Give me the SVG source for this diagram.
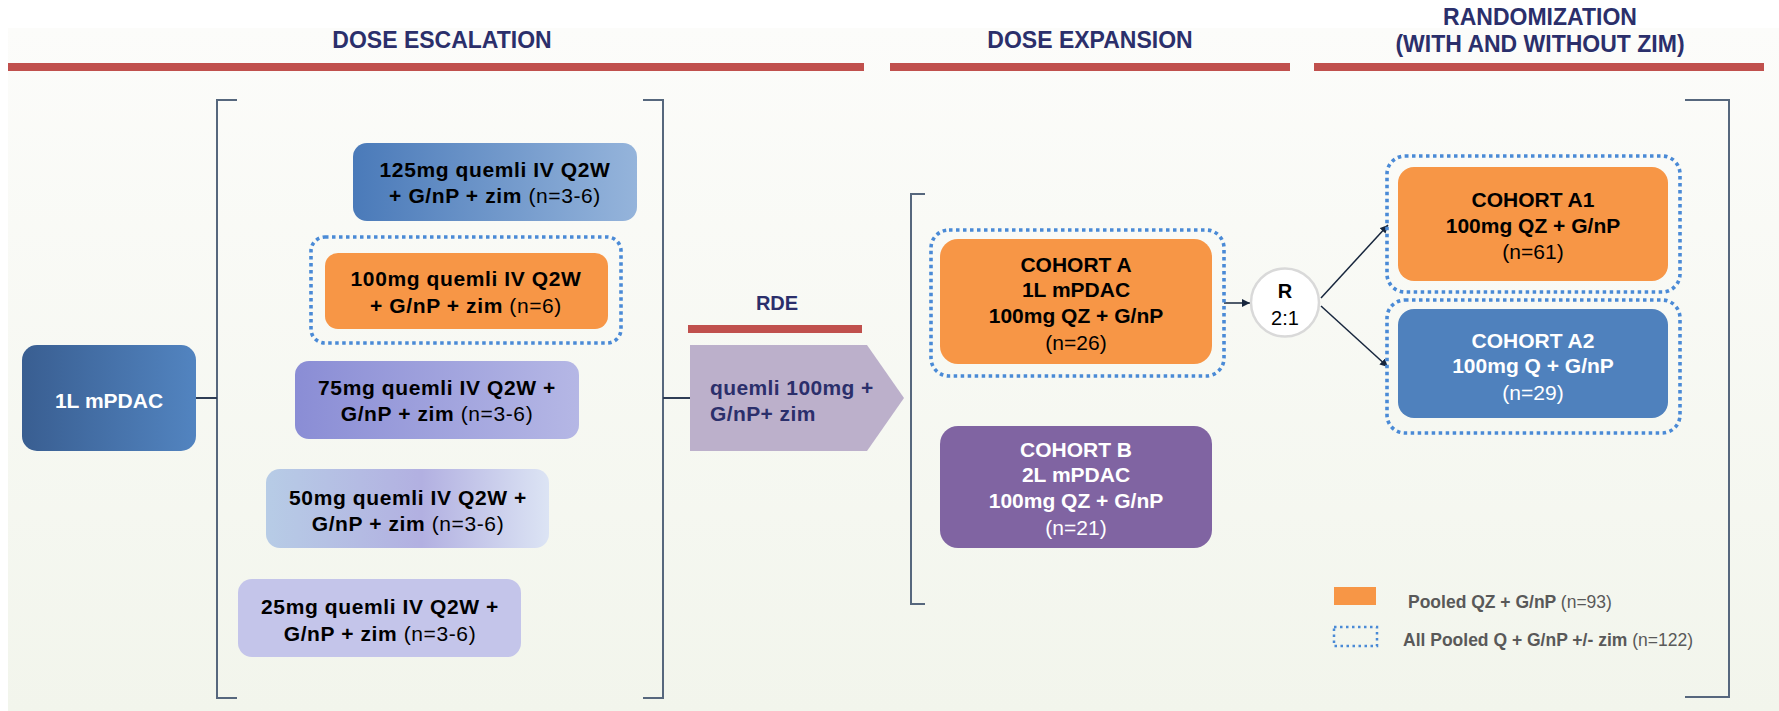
<svg xmlns="http://www.w3.org/2000/svg" width="1779" height="711" viewBox="0 0 1779 711">
  <defs>
    <linearGradient id="bg" x1="0" y1="0" x2="0" y2="1">
      <stop offset="0" stop-color="#fcfcfa"/>
      <stop offset="1" stop-color="#f2f5ec"/>
    </linearGradient>
    <linearGradient id="g1L" x1="0" y1="0" x2="1" y2="0">
      <stop offset="0" stop-color="#395e91"/>
      <stop offset="1" stop-color="#5284c0"/>
    </linearGradient>
    <linearGradient id="g125" x1="0" y1="0" x2="1" y2="0">
      <stop offset="0" stop-color="#4a7ab9"/>
      <stop offset="1" stop-color="#95b4db"/>
    </linearGradient>
    <linearGradient id="g75" x1="0" y1="0" x2="1" y2="0">
      <stop offset="0" stop-color="#8a8dd5"/>
      <stop offset="1" stop-color="#b5b7e5"/>
    </linearGradient>
    <linearGradient id="g50" x1="0" y1="0" x2="1" y2="0">
      <stop offset="0" stop-color="#b7cce6"/>
      <stop offset="0.55" stop-color="#b2b0e1"/>
      <stop offset="1" stop-color="#dce4f4"/>
    </linearGradient>
    <marker id="arr" viewBox="0 0 10 10" refX="10" refY="5" markerWidth="8" markerHeight="8" markerUnits="userSpaceOnUse" orient="auto">
      <path d="M0,0 L10,5 L0,10 z" fill="#17263d"/>
    </marker>
    <style>
      .hdr { font-family: "Liberation Sans", Arial, sans-serif; font-weight: bold; font-size: 23px; fill: #2b2f6b; text-anchor: middle; }
      .bar { fill: #c0504d; }
      .brk { fill: none; stroke: #56677d; stroke-width: 2; }
      .t { font-family: "Liberation Sans", Arial, sans-serif; font-weight: bold; font-size: 21px; fill: #000; text-anchor: middle; }
      .esc { letter-spacing: 0.6px; }
      .w { fill: #ffffff; }
      .n { font-weight: normal; }
      .dot { fill: none; stroke: #4a8ad6; stroke-width: 3.6; stroke-dasharray: 3.5 3.5; }
      .conn { fill: none; stroke: #17263d; stroke-width: 1.5; }
      .line { fill: none; stroke: #2e3d55; stroke-width: 2; }
      .leg { font-family: "Liberation Sans", Arial, sans-serif; font-weight: bold; font-size: 17.5px; fill: #595959; }
    </style>
  </defs>

  <rect x="0" y="0" width="1779" height="711" fill="#ffffff"/>
  <rect x="8" y="28" width="1771" height="683" fill="url(#bg)"/>

  <g id="headers">
    <text class="hdr" x="442" y="48">DOSE ESCALATION</text>
    <rect class="bar" x="8" y="63" width="856" height="8"/>
    <text class="hdr" x="1090" y="48">DOSE EXPANSION</text>
    <rect class="bar" x="890" y="63" width="400" height="8"/>
    <text class="hdr" x="1540" y="25">RANDOMIZATION</text>
    <text class="hdr" x="1540" y="52">(WITH AND WITHOUT ZIM)</text>
    <rect class="bar" x="1314" y="63" width="450" height="8"/>
  </g>

  <g id="brackets">
    <path class="brk" d="M237,100 H217 V698 H237"/>
    <path class="brk" d="M643,100 H663 V698 H643"/>
    <path class="brk" d="M925,194 H911 V604 H925"/>
    <path class="brk" d="M1685,100 H1729 V697 H1685"/>
  </g>

  <g id="connectors">
    <line class="line" x1="196" y1="398" x2="217" y2="398"/>
    <line class="line" x1="663" y1="398" x2="690" y2="398"/>
    <line class="conn" x1="1224" y1="303" x2="1250" y2="303" marker-end="url(#arr)"/>
    <line class="conn" x1="1321" y1="298" x2="1388" y2="225" marker-end="url(#arr)"/>
    <line class="conn" x1="1321" y1="306" x2="1388" y2="367" marker-end="url(#arr)"/>
  </g>

  <g id="node-1L">
    <rect x="22" y="345" width="174" height="106" rx="15" fill="url(#g1L)"/>
    <text class="t w" x="109" y="408">1L mPDAC</text>
  </g>

  <g id="node-125">
    <rect x="353" y="143" width="284" height="78" rx="14" fill="url(#g125)"/>
    <text class="t esc" x="495" y="177">125mg quemli IV Q2W</text>
    <text class="t esc" x="495" y="203">+ G/nP + zim <tspan class="n">(n=3-6)</tspan></text>
  </g>

  <g id="node-100">
    <rect class="dot" x="311" y="237" width="310" height="106" rx="14"/>
    <rect x="325" y="253" width="283" height="76" rx="13" fill="#f79646"/>
    <text class="t esc" x="466" y="286">100mg quemli IV Q2W</text>
    <text class="t esc" x="466" y="313">+ G/nP + zim <tspan class="n">(n=6)</tspan></text>
  </g>

  <g id="node-75">
    <rect x="295" y="361" width="284" height="78" rx="14" fill="url(#g75)"/>
    <text class="t esc" x="437" y="395">75mg quemli IV Q2W +</text>
    <text class="t esc" x="437" y="421">G/nP + zim <tspan class="n">(n=3-6)</tspan></text>
  </g>

  <g id="node-50">
    <rect x="266" y="469" width="283" height="79" rx="14" fill="url(#g50)"/>
    <text class="t esc" x="408" y="505">50mg quemli IV Q2W +</text>
    <text class="t esc" x="408" y="531">G/nP + zim <tspan class="n">(n=3-6)</tspan></text>
  </g>

  <g id="node-25">
    <rect x="238" y="579" width="283" height="78" rx="14" fill="#c4c5ea"/>
    <text class="t esc" x="380" y="614">25mg quemli IV Q2W +</text>
    <text class="t esc" x="380" y="641">G/nP + zim <tspan class="n">(n=3-6)</tspan></text>
  </g>

  <g id="node-rde">
    <text class="hdr" x="777" y="310" style="font-size:20px">RDE</text>
    <rect class="bar" x="688" y="325" width="174" height="8"/>
    <polygon points="690,345 867,345 904,398 867,451 690,451" fill="#bcb0cb"/>
    <text class="t" x="710" y="395" style="text-anchor:start;fill:#2b2f6b;letter-spacing:0.4px">quemli 100mg +</text>
    <text class="t" x="710" y="421" style="text-anchor:start;fill:#2b2f6b;letter-spacing:0.4px">G/nP+ zim</text>
  </g>

  <g id="node-cohortA">
    <rect class="dot" x="931" y="230" width="293" height="146" rx="18"/>
    <rect x="940" y="239" width="272" height="125" rx="18" fill="#f79646"/>
    <text class="t" x="1076" y="272">COHORT A</text>
    <text class="t" x="1076" y="297">1L mPDAC</text>
    <text class="t" x="1076" y="323">100mg QZ + G/nP</text>
    <text class="t n" x="1076" y="350">(n=26)</text>
  </g>

  <g id="node-cohortB">
    <rect x="940" y="426" width="272" height="122" rx="18" fill="#8064a2"/>
    <text class="t w" x="1076" y="457">COHORT B</text>
    <text class="t w" x="1076" y="482">2L mPDAC</text>
    <text class="t w" x="1076" y="508">100mg QZ + G/nP</text>
    <text class="t w n" x="1076" y="535">(n=21)</text>
  </g>

  <g id="node-R">
    <circle cx="1285" cy="302.5" r="34" fill="#ffffff" stroke="#d9d9d9" stroke-width="2.5"/>
    <text class="t" x="1285" y="298" style="font-size:20px">R</text>
    <text class="t n" x="1285" y="325" style="font-size:20px">2:1</text>
  </g>

  <g id="node-cohortA1">
    <rect class="dot" x="1387" y="156" width="293" height="136" rx="18"/>
    <rect x="1398" y="167" width="270" height="114" rx="16" fill="#f79646"/>
    <text class="t" x="1533" y="207">COHORT A1</text>
    <text class="t" x="1533" y="233">100mg QZ + G/nP</text>
    <text class="t n" x="1533" y="259">(n=61)</text>
  </g>

  <g id="node-cohortA2">
    <rect class="dot" x="1387" y="300" width="293" height="133" rx="18"/>
    <rect x="1398" y="309" width="270" height="109" rx="16" fill="#4f81bd"/>
    <text class="t w" x="1533" y="348">COHORT A2</text>
    <text class="t w" x="1533" y="373">100mg Q + G/nP</text>
    <text class="t w n" x="1533" y="400">(n=29)</text>
  </g>

  <g id="legend">
    <rect x="1334" y="587" width="42" height="18" fill="#f79646"/>
    <text class="leg" x="1408" y="608">Pooled QZ + G/nP <tspan class="n">(n=93)</tspan></text>
    <rect x="1334" y="627" width="43" height="19" fill="none" stroke="#4a8ad6" stroke-width="2.5" stroke-dasharray="2.5 3.5"/>
    <text class="leg" x="1403" y="646">All Pooled Q + G/nP +/- zim <tspan class="n">(n=122)</tspan></text>
  </g>
</svg>
